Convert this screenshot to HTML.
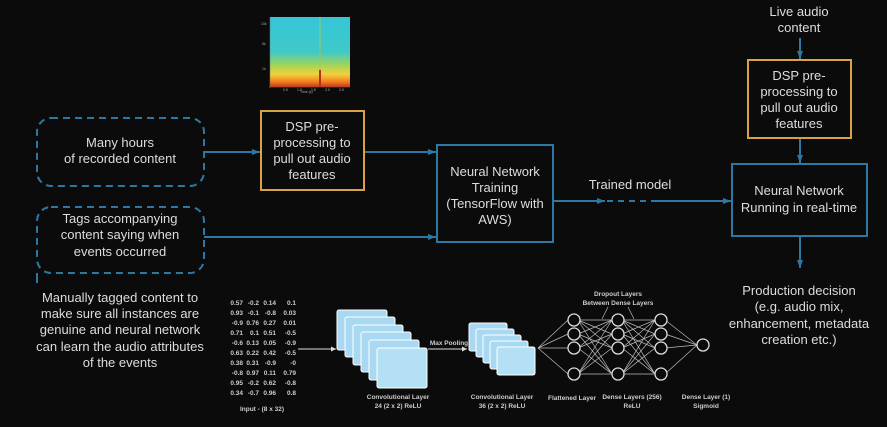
<!DOCTYPE html>
<html><head><meta charset="utf-8"><style>
body{margin:0;background:#0c0b0b;width:887px;height:427px;overflow:hidden;font-family:"Liberation Sans",sans-serif;}
svg{position:absolute;left:0;top:0}
</style></head><body>
<svg width="887" height="427" viewBox="0 0 887 427" font-family="Liberation Sans, sans-serif">
<defs>
<linearGradient id="sp" x1="0" y1="0" x2="0" y2="1">
<stop offset="0" stop-color="#35c6d8"/><stop offset="0.5" stop-color="#3fc9c8"/><stop offset="0.68" stop-color="#9fd45a"/><stop offset="0.82" stop-color="#f2d13a"/><stop offset="0.93" stop-color="#f07a20"/><stop offset="1" stop-color="#d03010"/></linearGradient>
<marker id="a" markerUnits="userSpaceOnUse" markerWidth="9" markerHeight="9" refX="8" refY="4.5" orient="auto"><path d="M0,1.5 L8,4.5 L0,7.5z" fill="#2f77a3"/></marker>
<marker id="w" markerUnits="userSpaceOnUse" markerWidth="6" markerHeight="6" refX="5" refY="3" orient="auto"><path d="M0,0.5 L5,3 L0,5.5z" fill="#ddd"/></marker>
</defs>
<g fill="none" stroke="#2f77a3" stroke-width="2">
<rect x="37" y="118" width="167" height="68" rx="14" stroke-dasharray="7,5"/>
<rect x="37" y="207" width="167" height="66" rx="14" stroke-dasharray="7,5"/>
<rect x="437" y="145" width="116" height="97"/>
<rect x="732" y="164" width="135" height="72"/>
<line x1="204" y1="152" x2="260" y2="152" marker-end="url(#a)"/>
<line x1="364" y1="152" x2="436" y2="152" marker-end="url(#a)"/>
<line x1="204" y1="237" x2="436" y2="237" marker-end="url(#a)"/>
<line x1="553" y1="201" x2="605" y2="201" marker-end="url(#a)"/>
<line x1="607" y1="201" x2="652" y2="201" stroke-dasharray="6,5"/>
<line x1="652" y1="201" x2="731" y2="201" marker-end="url(#a)"/>
<line x1="800" y1="38" x2="800" y2="59" marker-end="url(#a)"/>
<line x1="800" y1="138" x2="800" y2="163" marker-end="url(#a)"/>
<line x1="800" y1="236" x2="800" y2="268" marker-end="url(#a)"/>
<line x1="37" y1="273" x2="37" y2="283"/>
</g>
<g fill="none" stroke="#d9a243" stroke-width="2">
<rect x="261" y="111" width="103" height="79"/>
<rect x="748" y="60" width="103" height="78"/>
</g>
<rect x="270" y="17" width="80" height="70" fill="url(#sp)"/>
<line x1="320" y1="17" x2="320" y2="87" stroke="#a8c850" stroke-width="1.5" opacity=".6"/>
<line x1="320" y1="70" x2="320" y2="87" stroke="#b83010" stroke-width="2"/>
<g stroke="#777" stroke-width="0.5"><line x1="270" y1="17" x2="270" y2="88"/><line x1="269" y1="87" x2="350" y2="87"/></g>
<g fill="#aaa" font-size="3.5"><text x="300" y="93">Time (s)</text><text x="261" y="25">10k</text><text x="262" y="45">5k</text><text x="262" y="70">1k</text><text x="283" y="91">0.5</text><text x="297" y="91">1.0</text><text x="311" y="91">1.5</text><text x="325" y="91">2.0</text><text x="339" y="91">2.5</text></g>
<g fill="#ddd" font-size="13" text-anchor="middle">
<text x="120" y="147">Many hours</text><text x="120" y="163">of recorded content</text>
<text x="120" y="223">Tags accompanying</text><text x="120" y="239">content saying when</text><text x="120" y="256">events occurred</text>
<text x="312" y="131">DSP pre-</text><text x="312" y="147">processing to</text><text x="312" y="163">pull out audio</text><text x="312" y="179">features</text>
<text x="799" y="80">DSP pre-</text><text x="799" y="96">processing to</text><text x="799" y="112">pull out audio</text><text x="799" y="128">features</text>
<text x="495" y="176">Neural Network</text><text x="495" y="192">Training</text><text x="495" y="208">(TensorFlow with</text><text x="495" y="224">AWS)</text>
<text x="630" y="189">Trained model</text>
<text x="799" y="195">Neural Network</text><text x="799" y="212">Running in real-time</text>
<text x="799" y="16">Live audio</text><text x="799" y="32">content</text>
<text x="799" y="295">Production decision</text><text x="799" y="311">(e.g. audio mix,</text><text x="799" y="328">enhancement, metadata</text><text x="799" y="344">creation etc.)</text>
<text x="120" y="302">Manually tagged content to</text><text x="120" y="318">make sure all instances are</text><text x="120" y="334">genuine and neural network</text><text x="120" y="351">can learn the audio attributes</text><text x="120" y="367">of the events</text>
</g>
<g fill="#ccc" font-size="6.5" font-weight="bold" text-anchor="end">
<text x="243" y="305">0.57</text><text x="243" y="315">0.93</text><text x="243" y="325">-0.9</text><text x="243" y="335">0.71</text><text x="243" y="345">-0.6</text><text x="243" y="355">0.63</text><text x="243" y="365">0.38</text><text x="243" y="375">-0.8</text><text x="243" y="385">0.95</text><text x="243" y="395">0.34</text>
<text x="259" y="305">-0.2</text><text x="259" y="315">-0.1</text><text x="259" y="325">0.76</text><text x="259" y="335">0.1</text><text x="259" y="345">0.13</text><text x="259" y="355">0.22</text><text x="259" y="365">0.31</text><text x="259" y="375">0.97</text><text x="259" y="385">-0.2</text><text x="259" y="395">-0.7</text>
<text x="276" y="305">0.14</text><text x="276" y="315">-0.8</text><text x="276" y="325">0.27</text><text x="276" y="335">0.51</text><text x="276" y="345">0.05</text><text x="276" y="355">0.42</text><text x="276" y="365">-0.9</text><text x="276" y="375">0.11</text><text x="276" y="385">0.62</text><text x="276" y="395">0.96</text>
<text x="296" y="305">0.1</text><text x="296" y="315">0.03</text><text x="296" y="325">0.01</text><text x="296" y="335">-0.5</text><text x="296" y="345">-0.9</text><text x="296" y="355">-0.5</text><text x="296" y="365">-0</text><text x="296" y="375">0.79</text><text x="296" y="385">-0.8</text><text x="296" y="395">0.8</text>
</g>
<g fill="#ccc" font-size="6.5" font-weight="bold" text-anchor="middle">
<text x="262" y="411">Input - (8 x 32)</text>
<text x="398" y="399">Convolutional Layer</text><text x="398" y="408">24 (2 x 2) ReLU</text>
<text x="502" y="399">Convolutional Layer</text><text x="502" y="408">36 (2 x 2) ReLU</text>
<text x="449" y="345">Max Pooling</text>
<text x="572" y="400">Flattened Layer</text>
<text x="632" y="399">Dense Layers (256)</text><text x="632" y="408">ReLU</text>
<text x="706" y="399">Dense Layer (1)</text><text x="706" y="408">Sigmoid</text>
<text x="618" y="296">Dropout Layers</text><text x="618" y="305">Between Dense Layers</text>
</g>
<g stroke="#ddd" stroke-width="1" fill="none">
<line x1="298" y1="349" x2="336" y2="349" marker-end="url(#w)"/>
<line x1="428" y1="349" x2="467" y2="349" marker-end="url(#w)"/>
</g>
<g fill="#a8d8f2" stroke="#fff" stroke-width="1">
<rect x="337" y="310" width="50" height="40" rx="2"/><rect x="345" y="317" width="50" height="40" rx="2"/><rect x="353" y="325" width="50" height="40" rx="2"/><rect x="361" y="332" width="50" height="40" rx="2"/><rect x="369" y="340" width="50" height="40" rx="2"/><rect x="377" y="348" width="50" height="40" rx="2" fill="#b4e0f6"/>
<rect x="469" y="323" width="38" height="28" rx="2"/><rect x="476" y="329" width="38" height="28" rx="2"/><rect x="483" y="335" width="38" height="28" rx="2"/><rect x="490" y="341" width="38" height="28" rx="2"/><rect x="497" y="347" width="38" height="28" rx="2" fill="#b4e0f6"/>
</g>
<g stroke="#bbb" stroke-width="0.7" fill="none">
<path d="M538,348 L568,320 M538,348 L568,334 M538,348 L568,348 M538,348 L568,374"/>
<path d="M578,320 L612,320 M578,320 L612,334 M578,320 L612,348 M578,320 L612,374 M578,334 L612,320 M578,334 L612,348 M578,334 L612,374 M578,348 L612,320 M578,348 L612,334 M578,348 L612,374 M578,374 L612,320 M578,374 L612,334 M578,374 L612,348 M578,374 L612,374"/>
<path d="M622,320 L655,320 M622,320 L655,334 M622,320 L655,348 M622,320 L655,374 M622,334 L655,320 M622,334 L655,348 M622,334 L655,374 M622,348 L655,320 M622,348 L655,334 M622,348 L655,374 M622,374 L655,320 M622,374 L655,334 M622,374 L655,348 M622,374 L655,374"/>
<path d="M665,320 L697,345 M665,334 L697,345 M665,348 L697,345 M665,374 L697,345"/>
<path d="M608,307 L602,319 M628,307 L634,319"/>
</g>
<g fill="#0c0b0b" stroke="#ddd" stroke-width="1.3">
<circle cx="574" cy="320" r="6"/><circle cx="574" cy="334" r="6"/><circle cx="574" cy="348" r="6"/><circle cx="574" cy="374" r="6"/>
<circle cx="618" cy="320" r="6"/><circle cx="618" cy="334" r="6"/><circle cx="618" cy="348" r="6"/><circle cx="618" cy="374" r="6"/>
<circle cx="661" cy="320" r="6"/><circle cx="661" cy="334" r="6"/><circle cx="661" cy="348" r="6"/><circle cx="661" cy="374" r="6"/>
<circle cx="703" cy="345" r="6"/>
</g>
</svg>
</body></html>
